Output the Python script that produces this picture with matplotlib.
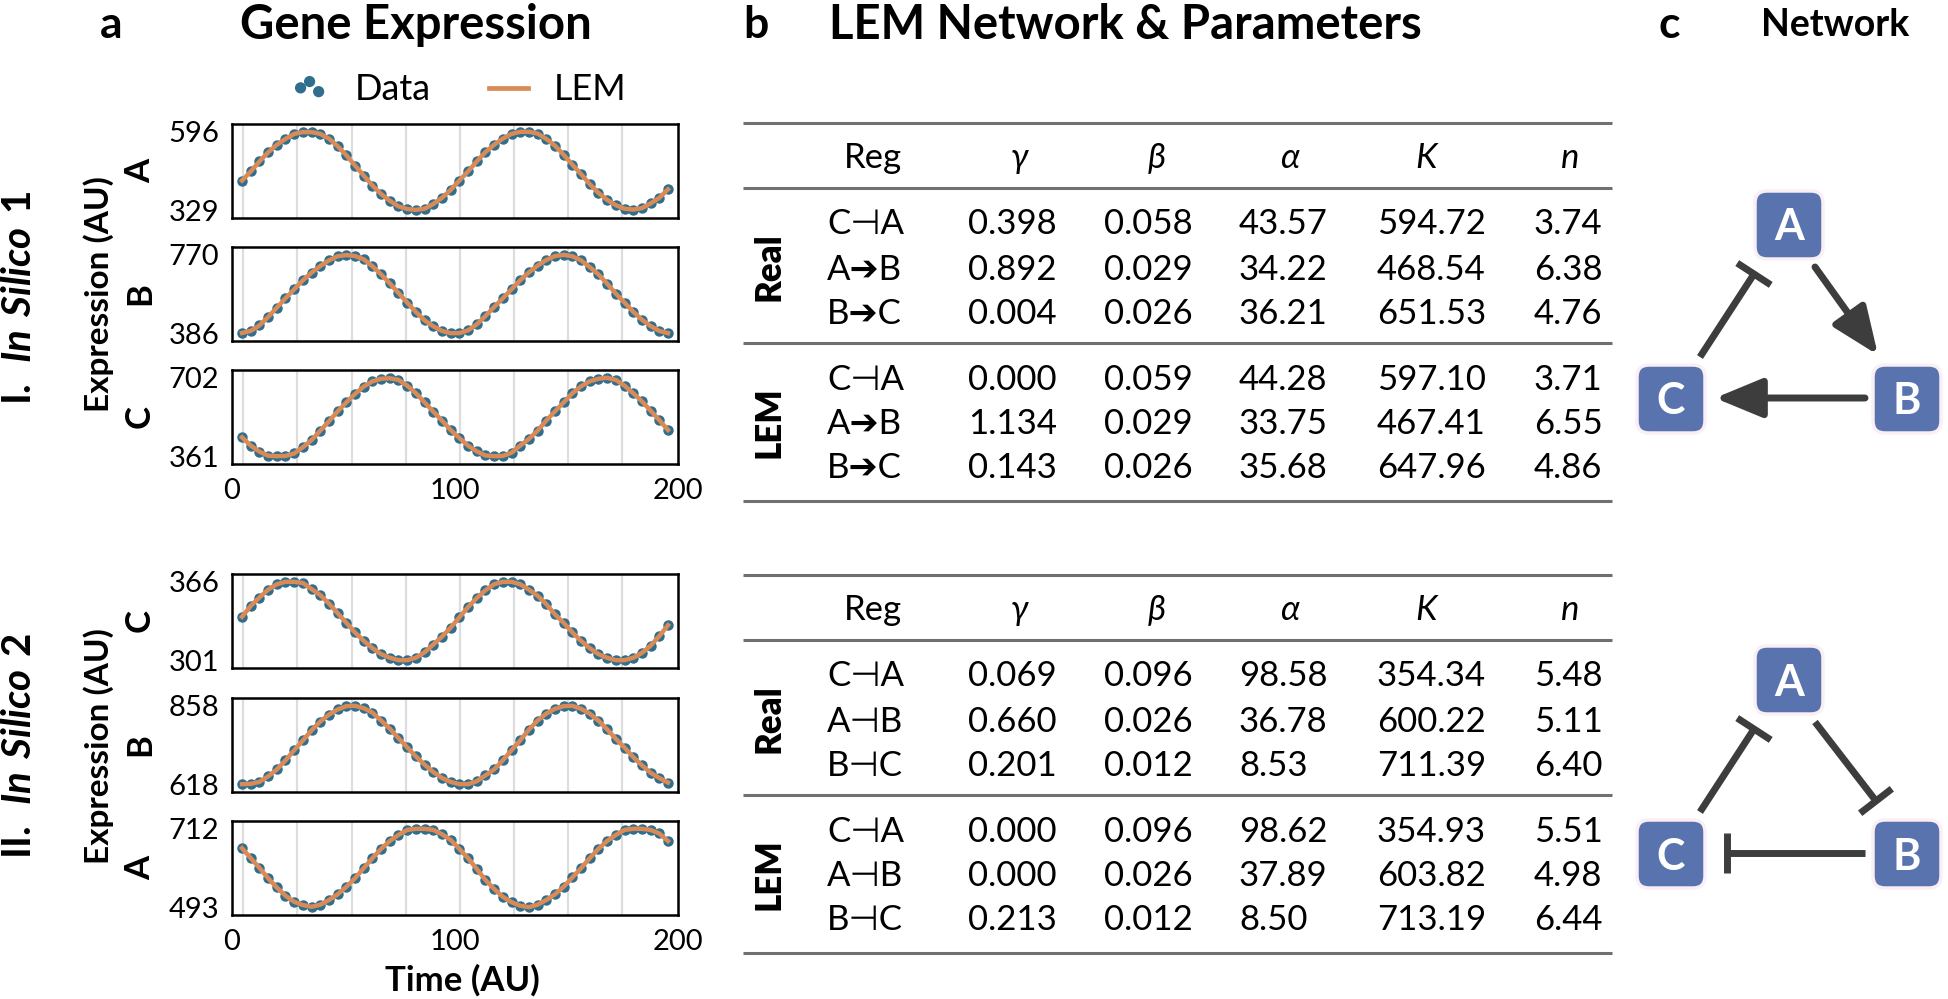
import numpy as np
import matplotlib
matplotlib.use("Agg")
import matplotlib.pyplot as plt
from matplotlib.patches import FancyBboxPatch, FancyArrowPatch

# ── Data ──────────────────────────────────────────────────────────

time_points = np.linspace(4.5, 195.5, 50)       # sampling times (AU)
grid_t = [5, 29.3, 53.6, 77.9, 102.2, 126.5, 150.8, 175.1]
time_ticks = [0, 100, 200]

# In Silico 1 expression (top -> bottom: A, B, C)
sim1_A = [430, 461, 495, 526, 552, 572, 589, 595, 595, 589,
          573, 547, 516, 481, 447, 413, 384, 361, 342, 333,
          330, 334, 350, 371, 398, 430, 461, 495, 527, 552,
          573, 589, 596, 596, 590, 572, 549, 518, 484, 452,
          418, 388, 364, 346, 334, 331, 336, 352, 371, 400]
sim1_B = [387, 397, 424, 465, 511, 557, 601, 645, 683, 715,
          743, 763, 769, 764, 748, 714, 674, 630, 583, 536,
          490, 449, 420, 397, 386, 386, 400, 429, 470, 514,
          557, 601, 645, 684, 717, 745, 764, 770, 763, 743,
          710, 674, 629, 580, 536, 491, 452, 421, 397, 386]
sim1_C = [443, 407, 381, 363, 361, 362, 373, 400, 431, 472,
          513, 556, 595, 632, 664, 687, 698, 700, 693, 668,
          635, 595, 555, 516, 475, 440, 407, 382, 364, 361,
          362, 376, 407, 436, 472, 516, 556, 595, 635, 665,
          687, 698, 702, 693, 668, 635, 600, 559, 518, 475]

# In Silico 2 expression (top -> bottom: C, B, A)
sim2_C = [337, 346, 353, 359.5, 364, 366, 366, 365, 360, 355,
          348, 340, 332, 324, 317, 311, 306, 303, 301, 301,
          303, 307.5, 314, 320.5, 328, 336.5, 345, 352.5, 359, 364,
          366, 366, 364, 359.5, 354.5, 347.5, 339, 332, 324, 317,
          311, 306, 303, 301, 301, 303, 307, 313, 321, 330]
sim2_B = [618, 619, 625, 642, 663, 691, 722, 752, 783, 810,
          831, 847, 857, 858, 851, 837, 813, 788, 759, 731,
          703, 678, 655, 637, 625, 618, 618, 627, 645, 663,
          691, 722, 752, 785, 813, 834, 849, 857, 858, 849,
          834, 813, 786, 757, 730, 701, 676, 653, 637, 623]
sim2_A = [658, 630, 603, 574, 548, 525, 508, 499, 494, 500,
          513, 529, 550, 574, 602, 630, 656, 678, 695, 709,
          712, 712, 709, 697, 681, 656, 630, 600, 569, 544,
          522, 507, 497, 493, 500, 513, 529, 550, 576, 602,
          630, 656, 678, 695, 709, 712, 712, 709, 699, 678]

genes1 = ["A", "B", "C"]
genes2 = ["C", "B", "A"]
ticks1 = [(329, 596), (386, 770), (361, 702)]
ticks2 = [(301, 366), (618, 858), (493, 712)]

# LEM parameter tables
headers = ["Reg", "γ", "β", "α", "K", "n"]
regs1 = ["C⊣A", "A➔B", "B➔C"]
real1 = [[0.398, 0.058, 43.57, 594.72, 3.74],
         [0.892, 0.029, 34.22, 468.54, 6.38],
         [0.004, 0.026, 36.21, 651.53, 4.76]]
lem1 = [[0.000, 0.059, 44.28, 597.10, 3.71],
        [1.134, 0.029, 33.75, 467.41, 6.55],
        [0.143, 0.026, 35.68, 647.96, 4.86]]
regs2 = ["C⊣A", "A⊣B", "B⊣C"]
real2 = [[0.069, 0.096, 98.58, 354.34, 5.48],
         [0.660, 0.026, 36.78, 600.22, 5.11],
         [0.201, 0.012, 8.53, 711.39, 6.40]]
lem2 = [[0.000, 0.096, 98.62, 354.93, 5.51],
        [0.000, 0.026, 37.89, 603.82, 4.98],
        [0.213, 0.012, 8.50, 713.19, 6.44]]
num_fmt = ["{:.3f}", "{:.3f}", "{:.2f}", "{:.2f}", "{:.2f}"]

# ── Style ─────────────────────────────────────────────────────────

W, H = 1949, 999
DATA_C = "#2f6e8c"
LEM_C = "#da8a56"
NODE_C = "#5873ad"
EDGE_C = "#3d3d3d"
RULE_C = "#707070"

plt.rcParams["font.family"] = ["Lato", "DejaVu Sans"]
plt.rcParams["mathtext.fontset"] = "custom"
plt.rcParams["mathtext.rm"] = "Lato"
plt.rcParams["mathtext.bf"] = "Lato:bold"
plt.rcParams["mathtext.bfit"] = "Lato:italic:bold"

fig = plt.figure(figsize=(W / 100, H / 100), dpi=100)

ov = fig.add_axes([0, 0, 1, 1])
ov.set_xlim(0, W)
ov.set_ylim(H, 0)
ov.axis("off")


def px_axes(left, top, width, height):
    return fig.add_axes([left / W, 1 - (top + height) / H, width / W, height / H])


def txt(x, y, s, size, **kw):
    # y is the vertical centre of capital letters
    kw.setdefault("ha", "center")
    ov.text(x, y + 0.36 * size * 100 / 72, s, fontsize=size, va="baseline", **kw)


# ── Panel a: expression traces ────────────────────────────────────

def draw_panel(ax, values, lo_hi, show_x):
    lo, hi = lo_hi
    pad = 0.1 * (hi - lo)
    for g in grid_t:
        ax.axvline(g, color="#dddddd", lw=1.6, zorder=0)
    ax.plot(time_points, values, "o", color=DATA_C, ms=6.5, zorder=2)
    # LEM fit overlays the data almost exactly
    ax.plot(time_points, values, "-", color=LEM_C, lw=3.2, zorder=3)
    ax.set_xlim(0, 200)
    ax.set_ylim(lo - pad, hi + pad)
    ax.set_yticks([lo, hi])
    ax.set_yticklabels([str(lo), str(hi)])
    ax.tick_params(axis="y", length=0, pad=9, labelsize=21)
    if show_x:
        ax.set_xticks(time_ticks)
        ax.tick_params(axis="x", length=0, pad=10, labelsize=21)
    else:
        ax.set_xticks([])
    for s in ax.spines.values():
        s.set_linewidth(1.8)
        s.set_color("black")


panel_tops1 = [124, 247, 370]
panel_tops2 = [574, 698, 821]
AX_L, AX_W, AX_H = 232, 446, 94

for i, (vals, top) in enumerate(zip([sim1_A, sim1_B, sim1_C], panel_tops1)):
    draw_panel(px_axes(AX_L, top, AX_W, AX_H), vals, ticks1[i], i == 2)
    ov.text(140, top + AX_H / 2, genes1[i], rotation=90, fontsize=25,
            weight="bold", ha="center", va="center")
for i, (vals, top) in enumerate(zip([sim2_C, sim2_B, sim2_A], panel_tops2)):
    draw_panel(px_axes(AX_L, top, AX_W, AX_H), vals, ticks2[i], i == 2)
    ov.text(140, top + AX_H / 2, genes2[i], rotation=90, fontsize=25,
            weight="bold", ha="center", va="center")

for yc in (294, 746):
    ov.text(99, yc, "Expression (AU)", rotation=90, fontsize=24,
            weight="bold", ha="center", va="center")
ov.text(20, 298, r"$\mathbf{I.\ }\mathbfit{In\ Silico}\mathbf{\ 1}$",
        rotation=90, fontsize=29, ha="center", va="center")
ov.text(20, 746, r"$\mathbf{II.\ }\mathbfit{In\ Silico}\mathbf{\ 2}$",
        rotation=90, fontsize=29, ha="center", va="center")
txt(462, 978, "Time (AU)", 25, weight="bold")

h_data = ov.scatter([], [], s=50, color=DATA_C)
h_lem, = ov.plot([], [], color=LEM_C, lw=3.4)
fig.legend([h_data, h_lem], ["Data", "LEM"], loc="center",
           bbox_to_anchor=(458 / W, 1 - 90 / H), ncol=2, frameon=False,
           fontsize=26, scatterpoints=3, scatteryoffsets=[0.5, 0.75, 0.35],
           handlelength=1.1, handletextpad=0.7, columnspacing=1.6)

# ── Titles ────────────────────────────────────────────────────────

for x, s, size in [(111, "a", 32), (416, "Gene Expression", 34), (756, "b", 32),
                   (1125, "LEM Network & Parameters", 34), (1669, "c", 32),
                   (1835, "Network", 27)]:
    txt(x, 22, s, size, weight="bold")

# ── Panel b: parameter tables ─────────────────────────────────────

col_left = [827, 968, 1104, 1239, 1377, 1534]
head_x = [873, 1019, 1157, 1290, 1426, 1570]
row_dy = [99, 144, 188]
lem_dy = [254, 299, 342]


def draw_table(top, regs, real, lem):
    for dy in (0, 65, 219.5, 378):
        ov.plot([743, 1612], [top + dy] * 2, color=RULE_C, lw=2.2,
                solid_capstyle="butt")
    for j, h in enumerate(headers):
        txt(head_x[j], top + 32, h, 25, style="normal" if j == 0 else "italic")
    for block, dys, name in [(real, row_dy, "Real"), (lem, lem_dy, "LEM")]:
        for r, dy in enumerate(dys):
            txt(col_left[0], top + dy, regs[r], 25, ha="left")
            for c, v in enumerate(block[r]):
                txt(col_left[c + 1], top + dy, num_fmt[c].format(v), 25, ha="left")
        ov.text(769, top + dys[1], name, rotation=90, fontsize=25,
                weight="heavy", ha="center", va="center")


draw_table(123, regs1, real1, lem1)
draw_table(575, regs2, real2, lem2)

# ── Panel c: networks ─────────────────────────────────────────────

node_xy = {"A": (1789, 225), "B": (1907, 399), "C": (1671, 399)}


def draw_node(x, y, name):
    r, s = 12, 68
    ov.add_patch(FancyBboxPatch((x - s / 2 + r, y - s / 2 + r), s - 2 * r, s - 2 * r,
                                boxstyle=f"round,pad={r}", fc=NODE_C,
                                ec="#fbeef5", lw=2.5, zorder=3))
    txt(x, y, name, 31, weight="bold", color="white", zorder=4)


def activation(p0, p1):
    ov.add_patch(FancyArrowPatch(p0, p1, arrowstyle="-|>,head_length=29,head_width=12",
                                 mutation_scale=1, lw=5, color=EDGE_C,
                                 shrinkA=0, shrinkB=0, zorder=2))


def inhibition(p0, p1, half=20):
    (x0, y0), (x1, y1) = p0, p1
    d = np.hypot(x1 - x0, y1 - y0)
    ux, uy = (x1 - x0) / d, (y1 - y0) / d
    ov.plot([x0, x1], [y0, y1], color=EDGE_C, lw=5, solid_capstyle="butt", zorder=2)
    ov.plot([x1 - uy * half, x1 + uy * half], [y1 + ux * half, y1 - ux * half],
            color=EDGE_C, lw=5, solid_capstyle="butt", zorder=2)


for dy in (0, 455):
    for name, (x, y) in node_xy.items():
        draw_node(x, y + dy, name)

activation((1815, 267), (1878, 355))
activation((1865, 398), (1715, 398))
inhibition((1700, 357), (1754, 274))

inhibition((1815, 722), (1876, 801))
inhibition((1865, 853), (1727, 853))
inhibition((1700, 812), (1754, 729))

fig.savefig("out.png", dpi=100, facecolor="white")
